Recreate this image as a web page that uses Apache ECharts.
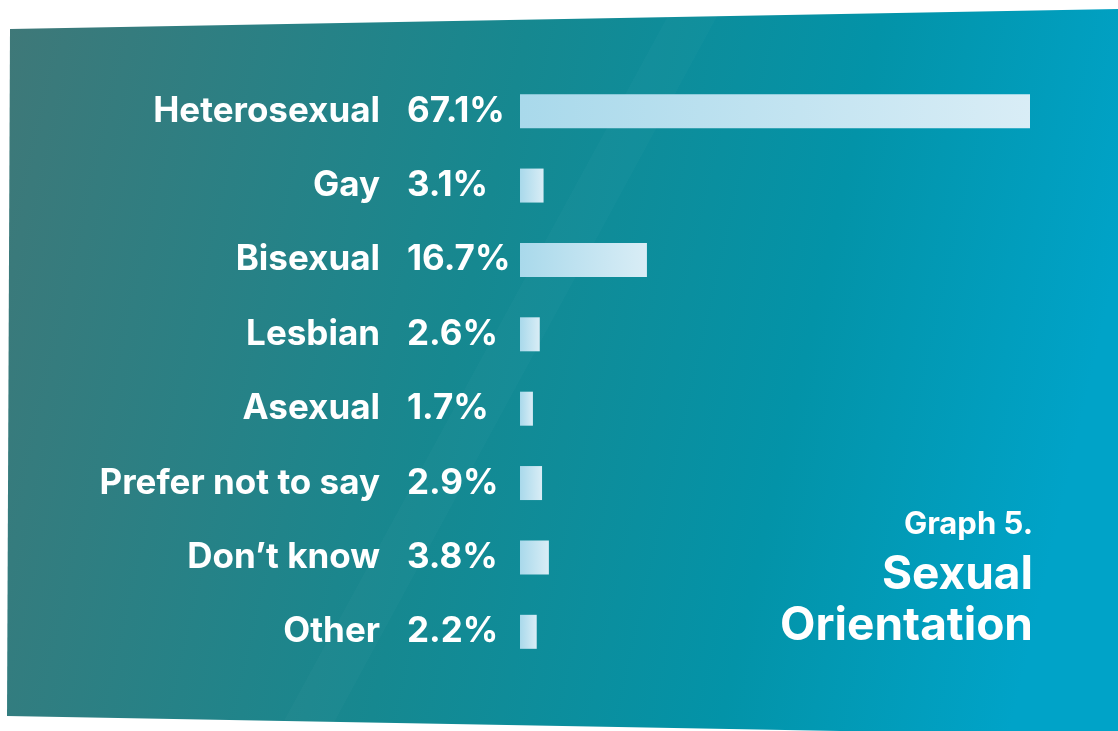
<!DOCTYPE html>
<html>
<head>
<meta charset="utf-8">
<style>
  html, body { margin: 0; padding: 0; background: #ffffff; }
  #chart { width: 1118px; height: 731px; }
</style>
<script src="https://cdn.jsdelivr.net/npm/echarts@6/dist/echarts.min.js"></script>
</head>
<body>
<div id="chart"></div>
<script>
// Survey responses by sexual orientation (percent of respondents)
const categories = ['Heterosexual', 'Gay', 'Bisexual', 'Lesbian', 'Asexual', 'Prefer not to say', 'Don\u2019t know', 'Other'];
const values = [67.1, 3.1, 16.7, 2.6, 1.7, 2.9, 3.8, 2.2];
const titleLines = ['Graph 5.', 'Sexual', 'Orientation'];

const FONT = 'Inter, Lato, sans-serif';

const chart = echarts.init(document.getElementById('chart'), null, { renderer: 'canvas' });

function titleText(text, y, size) {
  return {
    type: 'text',
    x: 1033,
    y: y,
    style: {
      text: text,
      fill: '#ffffff',
      font: 'bold ' + size + 'px ' + FONT,
      textAlign: 'right',
      textVerticalAlign: 'middle'
    }
  };
}

const option = {
  animation: false,
  backgroundColor: '#ffffff',
  graphic: [
    {
      // slanted teal panel behind the chart
      type: 'polygon',
      z: -10,
      shape: { points: [[10, 29], [1118, 9], [1118, 736], [7, 716]] },
      style: {
        fill: new echarts.graphic.LinearGradient(0, 0, 1, 0.35, [
          { offset: 0, color: '#3f7878' },
          { offset: 0.45, color: '#168890' },
          { offset: 0.75, color: '#0393a8' },
          { offset: 1, color: '#00a3c8' }
        ], false)
      }
    },
    {
      // faint glossy streak across the panel
      type: 'polygon',
      z: -9,
      shape: { points: [[670, 12], [720, 11], [330, 730], [280, 728]] },
      style: { fill: 'rgba(255,255,255,0.02)' }
    },
    titleText(titleLines[0], 525, 31),
    titleText(titleLines[1], 575, 46),
    titleText(titleLines[2], 626, 46)
  ],
  grid: { left: 520, right: 88, top: 74, bottom: 62, containLabel: false },
  xAxis: {
    type: 'value',
    min: 0,
    max: 67.1,
    show: false
  },
  yAxis: {
    type: 'category',
    data: categories,
    inverse: true,
    axisLine: { show: false },
    axisTick: { show: false },
    splitLine: { show: false },
    axisLabel: {
      margin: 140,
      color: '#ffffff',
      fontFamily: FONT,
      fontWeight: 'bold',
      fontSize: 35,
      align: 'right'
    }
  },
  series: [
    {
      type: 'bar',
      data: values,
      barWidth: 34,
      itemStyle: {
        color: new echarts.graphic.LinearGradient(0, 0, 1, 0, [
          { offset: 0, color: '#a9d9eb' },
          { offset: 1, color: '#d9edf6' }
        ])
      },
      label: {
        show: true,
        position: [-113, '50%'],
        align: 'left',
        verticalAlign: 'middle',
        color: '#ffffff',
        fontFamily: FONT,
        fontWeight: 'bold',
        fontSize: 35,
        formatter: p => p.value.toFixed(1) + '%'
      }
    }
  ]
};

chart.setOption(option);
</script>
</body>
</html>
